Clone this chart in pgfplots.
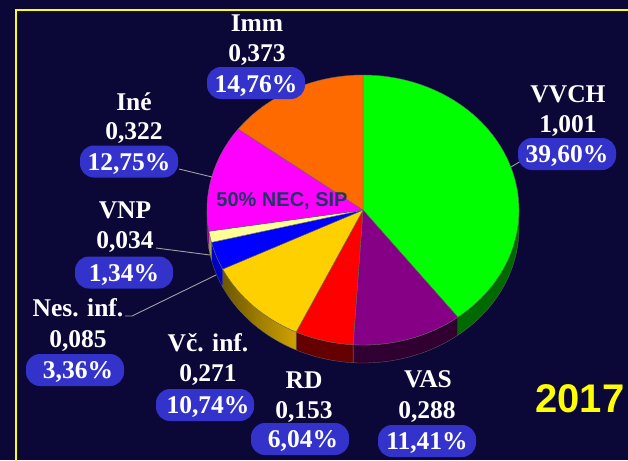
\documentclass[border=0pt]{standalone}
\usepackage{pgfplots}
\pgfplotsset{compat=1.18}
\usepackage{pgfplotstable}
\usepackage{fontspec}
\setmainfont{Liberation Serif}
\newfontfamily\arialfont{Liberation Sans}

\definecolor{bgnavy}{HTML}{0B0838}
\definecolor{cVVCH}{HTML}{00FF00}\definecolor{sVVCH}{HTML}{006A00}
\definecolor{cVAS}{HTML}{850085}\definecolor{sVAS}{HTML}{300030}
\definecolor{cRD}{HTML}{FF0000}\definecolor{sRD}{HTML}{650000}
\definecolor{cVc}{HTML}{FFD000}\definecolor{sVcL}{HTML}{6E5800}\definecolor{sVcR}{HTML}{D0A200}
\definecolor{cNes}{HTML}{0000FF}\definecolor{sNes}{HTML}{0000C0}
\definecolor{cVNP}{HTML}{FFFF99}\definecolor{sVNP}{HTML}{A0A050}
\definecolor{cIne}{HTML}{FF00FF}\definecolor{sIne}{HTML}{900090}
\definecolor{cImm}{HTML}{FF6A00}
\definecolor{boxblue}{HTML}{3333CC}
\definecolor{leader}{HTML}{A0A0A0}
\definecolor{necblue}{HTML}{1E3764}
\definecolor{frameyellow}{HTML}{FFFF00}

\pgfplotstableread{
label pct
VVCH 39.60
VAS 11.41
RD 6.04
Vc 10.74
Nes 3.36
VNP 1.34
Ine 12.75
Imm 14.76
}\piedata

\def\cx{363}\def\cy{210}\def\rx{156}\def\ry{135}\def\dd{18}

\newcommand\topface[3]{%
  \addplot[fill=#1, draw=black!60, line width=0.4pt, variable=\t,
    samples at={-1,0,1,...,60,61}]
    ({\cx + trad(\t)*\rx*cos(tang(\t,#2,#3))},
     {\cy - trad(\t)*\ry*sin(tang(\t,#2,#3))});
}
\newcommand\sideface[3]{%
  \addplot[#1, draw=black!60, line width=0.3pt, variable=\t,
    samples at={0,1,...,82}]
    ({\cx + \rx*cos(sang(\t,#2,#3))},
     {\cy - \ry*sin(sang(\t,#2,#3)) + soff(\t)*\dd});
}

\tikzset{
  lbl/.style={anchor=base, text=white, inner sep=0pt,
    font=\fontsize{25.5}{30}\selectfont\bfseries},
  pbox/.style={fill=boxblue, rounded corners=14pt, minimum width=98pt,
    minimum height=32pt, inner sep=0pt},
}

\begin{document}
\begin{tikzpicture}
\useasboundingbox (0,0) rectangle (628pt,460pt);
\fill[bgnavy] (0,0) rectangle (628pt,460pt);
\pgfplotstablegetelem{0}{pct}\of\piedata\pgfmathsetmacro\aA{90-3.6*\pgfplotsretval}
\pgfplotstablegetelem{1}{pct}\of\piedata\pgfmathsetmacro\aB{\aA-3.6*\pgfplotsretval}
\pgfplotstablegetelem{2}{pct}\of\piedata\pgfmathsetmacro\aC{\aB-3.6*\pgfplotsretval}
\pgfplotstablegetelem{3}{pct}\of\piedata\pgfmathsetmacro\aD{\aC-3.6*\pgfplotsretval}
\pgfplotstablegetelem{4}{pct}\of\piedata\pgfmathsetmacro\aE{\aD-3.6*\pgfplotsretval}
\pgfplotstablegetelem{5}{pct}\of\piedata\pgfmathsetmacro\aF{\aE-3.6*\pgfplotsretval}
\pgfplotstablegetelem{6}{pct}\of\piedata\pgfmathsetmacro\aG{\aF-3.6*\pgfplotsretval}
\pgfplotstablegetelem{7}{pct}\of\piedata\pgfmathsetmacro\aH{\aG-3.6*\pgfplotsretval}
\begin{axis}[at={(0,0)}, anchor=south west, width=628pt, height=460pt,
  scale only axis, xmin=0, xmax=628, ymin=0, ymax=460, y dir=reverse,
  hide axis, clip=false,
  declare function={
    tang(\t,\a,\b) = (\a) + max(0,min(60,\t))/60*((\b)-(\a));
    trad(\t) = (\t>=0)*(\t<=60);
    sang(\t,\a,\b) = (\t<=40)*((\a)+\t/40*((\b)-(\a)))
       + (\t>40)*(\t<82)*((\b)+(\t-41)/40*((\a)-(\b)))
       + (\t>=82)*(\a);
    soff(\t) = (\t>40)*(\t<82);
  }]
% frame
\addplot[frameyellow, line width=2pt] coordinates {(16,461) (16,10) (629,10)};
% sides (front half)
\sideface{fill=sVVCH}{0}{\aA}
\sideface{fill=sVAS}{\aA}{\aB}
\sideface{fill=sRD}{\aB}{\aC}
\sideface{left color=sVcL, right color=sVcR}{\aC}{\aD}
\sideface{fill=sNes}{\aD}{\aE}
\sideface{fill=sVNP}{\aE}{\aF}
\sideface{fill=sIne}{\aF}{-180}
% top faces
\topface{cVVCH}{90}{\aA}
\topface{cVAS}{\aA}{\aB}
\topface{cRD}{\aB}{\aC}
\topface{cVc}{\aC}{\aD}
\topface{cNes}{\aD}{\aE}
\topface{cVNP}{\aE}{\aF}
\topface{cIne}{\aF}{\aG}
\topface{cImm}{\aG}{\aH}
% leader lines
\addplot[leader, line width=0.9pt] coordinates {(511,167) (521,161)};
\addplot[leader, line width=0.9pt] coordinates {(179,169) (212,177)};
\addplot[leader, line width=0.9pt] coordinates {(156,248) (210,255)};
\addplot[leader, line width=0.9pt] coordinates {(125,316) (132,316) (216,275)};
% in-slice note
\node[anchor=base, text=necblue, inner sep=0pt,
  font=\arialfont\fontsize{20}{24}\selectfont\bfseries] at (282,206) {50\% NEC, SIP};
% labels
\node[lbl] at (257,31) {Imm};
\node[lbl] at (257,61) {0,373};
\node[pbox] at (256,83) {};
\node[lbl] at (256,92) {14,76\%};

\node[lbl] at (568,102) {VVCH};
\node[lbl] at (568,132) {1,001};
\node[pbox] at (567,154) {};
\node[lbl] at (567,162.5) {39,60\%};

\node[lbl] at (134,110) {Iné};
\node[lbl] at (134,139) {0,322};
\node[pbox] at (129,161.5) {};
\node[lbl] at (129,170) {12,75\%};

\node[lbl] at (125,218) {VNP};
\node[lbl] at (125,248) {0,034};
\node[pbox] at (124,272.5) {};
\node[lbl] at (124,281) {1,34\%};

\node[lbl] at (78,316) {Nes. inf.};
\node[lbl] at (78,347) {0,085};
\node[pbox] at (75,370) {};
\node[lbl] at (78,378.5) {3,36\%};

\node[lbl] at (208,351) {Vč. inf.};
\node[lbl] at (208,381) {0,271};
\node[pbox] at (205,405) {};
\node[lbl] at (208,413.5) {10,74\%};

\node[lbl] at (304,388) {RD};
\node[lbl] at (304,418) {0,153};
\node[pbox] at (300,439) {};
\node[lbl] at (303,447.5) {6,04\%};

\node[lbl] at (428,387) {VAS};
\node[lbl] at (427,418) {0,288};
\node[pbox] at (427,441) {};
\node[lbl] at (427,449.5) {11,41\%};

\node[anchor=base, text=frameyellow, inner sep=0pt,
  font=\arialfont\fontsize{40}{48}\selectfont\bfseries] at (580,412) {2017};
\end{axis}
\end{tikzpicture}
\end{document}
